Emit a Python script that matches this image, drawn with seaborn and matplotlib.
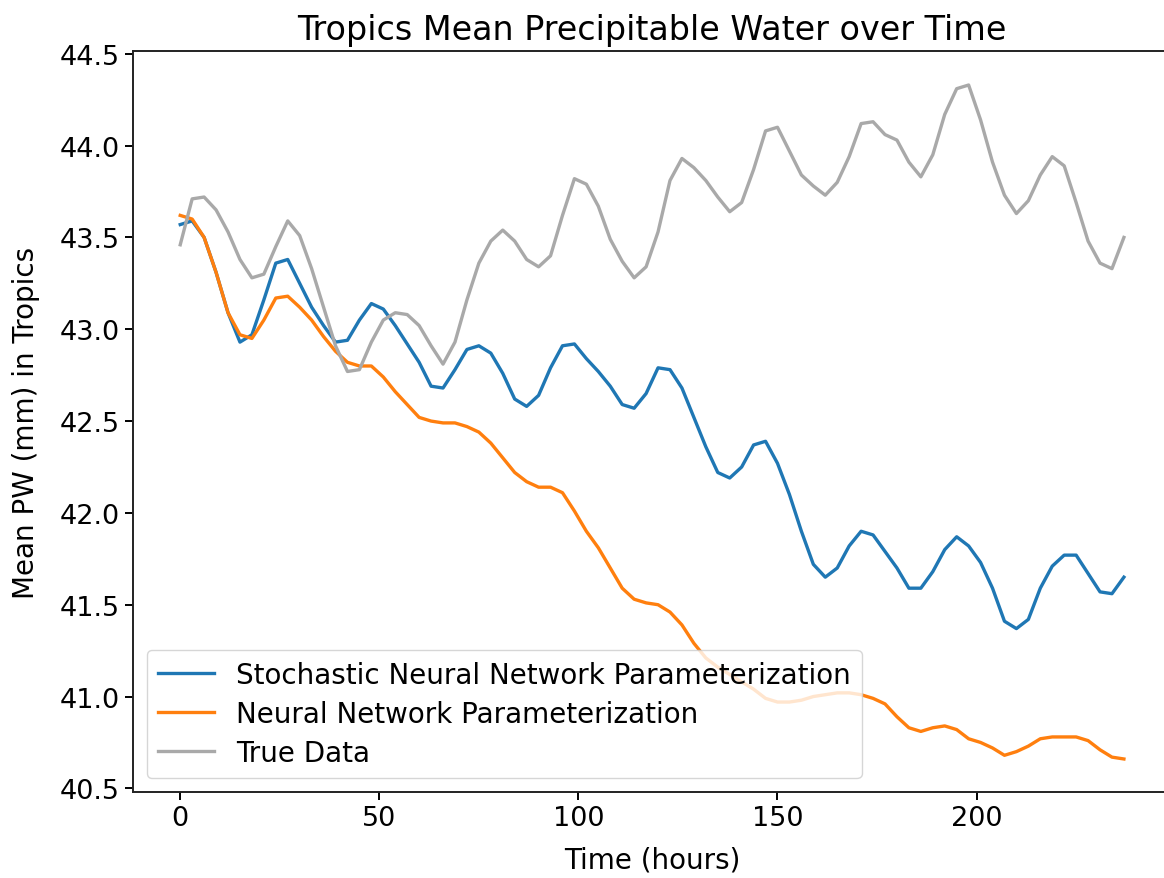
# Tropics mean precipitable water: stochastic NN vs NN vs truth
import numpy as np
import pandas as pd
import matplotlib
matplotlib.use("Agg")
import matplotlib.pyplot as plt
import seaborn as sns

# 3시간 간격 시간축 (0 ~ 237 h)
hours = list(range(0, 240, 3))

stochastic_nn = [
    43.57, 43.59, 43.50, 43.31, 43.09, 42.93, 42.97, 43.16, 43.36, 43.38,
    43.25, 43.12, 43.02, 42.93, 42.94, 43.05, 43.14, 43.11, 43.02, 42.92,
    42.82, 42.69, 42.68, 42.78, 42.89, 42.91, 42.87, 42.76, 42.62, 42.58,
    42.64, 42.79, 42.91, 42.92, 42.84, 42.77, 42.69, 42.59, 42.57, 42.65,
    42.79, 42.78, 42.68, 42.52, 42.36, 42.22, 42.19, 42.25, 42.37, 42.39,
    42.27, 42.10, 41.90, 41.72, 41.65, 41.70, 41.82, 41.90, 41.88, 41.79,
    41.70, 41.59, 41.59, 41.68, 41.80, 41.87, 41.82, 41.73, 41.59, 41.41,
    41.37, 41.42, 41.59, 41.71, 41.77, 41.77, 41.67, 41.57, 41.56, 41.65,
]

neural_nn = [
    43.62, 43.60, 43.50, 43.31, 43.09, 42.97, 42.95, 43.05, 43.17, 43.18,
    43.12, 43.05, 42.96, 42.88, 42.82, 42.80, 42.80, 42.74, 42.66, 42.59,
    42.52, 42.50, 42.49, 42.49, 42.47, 42.44, 42.38, 42.30, 42.22, 42.17,
    42.14, 42.14, 42.11, 42.01, 41.90, 41.81, 41.70, 41.59, 41.53, 41.51,
    41.50, 41.46, 41.39, 41.29, 41.21, 41.16, 41.12, 41.08, 41.04, 40.99,
    40.97, 40.97, 40.98, 41.00, 41.01, 41.02, 41.02, 41.01, 40.99, 40.96,
    40.89, 40.83, 40.81, 40.83, 40.84, 40.82, 40.77, 40.75, 40.72, 40.68,
    40.70, 40.73, 40.77, 40.78, 40.78, 40.78, 40.76, 40.71, 40.67, 40.66,
]

true_data = [
    43.46, 43.71, 43.72, 43.65, 43.53, 43.38, 43.28, 43.30, 43.45, 43.59,
    43.51, 43.33, 43.12, 42.91, 42.77, 42.78, 42.93, 43.05, 43.09, 43.08,
    43.02, 42.91, 42.81, 42.93, 43.16, 43.36, 43.48, 43.54, 43.48, 43.38,
    43.34, 43.40, 43.62, 43.82, 43.79, 43.67, 43.49, 43.37, 43.28, 43.34,
    43.53, 43.81, 43.93, 43.88, 43.81, 43.72, 43.64, 43.69, 43.87, 44.08,
    44.10, 43.97, 43.84, 43.78, 43.73, 43.80, 43.94, 44.12, 44.13, 44.06,
    44.03, 43.91, 43.83, 43.95, 44.17, 44.31, 44.33, 44.14, 43.91, 43.73,
    43.63, 43.70, 43.84, 43.94, 43.89, 43.69, 43.48, 43.36, 43.33, 43.50,
]

labels = ["Stochastic Neural Network Parameterization",
          "Neural Network Parameterization",
          "True Data"]
colors = ["#1f77b4", "#ff7f0e", "darkgray"]

df = pd.DataFrame({
    "hours": hours * 3,
    "pw": stochastic_nn + neural_nn + true_data,
    "series": [labels[0]] * len(hours) + [labels[1]] * len(hours) + [labels[2]] * len(hours),
})

plt.rcParams["font.family"] = ["DejaVu Sans"]
plt.rcParams["font.size"] = 20

fig = plt.figure(figsize=(11.64, 8.79), dpi=100)
ax = fig.add_axes([0.1143, 0.0978, 0.8918, 0.843])

sns.lineplot(data=df, x="hours", y="pw", hue="series", hue_order=labels,
             palette=dict(zip(labels, colors)), linewidth=2.4, ax=ax)

ax.set_ylim(40.48, 44.515)
ax.set_xticks([0, 50, 100, 150, 200])
ax.set_yticks(np.arange(40.5, 44.51, 0.5))
ax.tick_params(labelsize=19.5, width=1.4, length=6)
for s in ax.spines.values():
    s.set_linewidth(1.4)
    s.set_color("#222222")

ax.set_title("Tropics Mean Precipitable Water over Time", fontsize=24, pad=9)
ax.set_xlabel("Time (hours)", fontsize=20, labelpad=10)
ax.set_ylabel("Mean PW (mm) in Tropics", fontsize=20, labelpad=14)

sns.move_legend(ax, "lower left", title=None, fontsize=20, frameon=True,
                borderaxespad=0.5, labelspacing=0.4)

plt.savefig("out.png", dpi=100)
